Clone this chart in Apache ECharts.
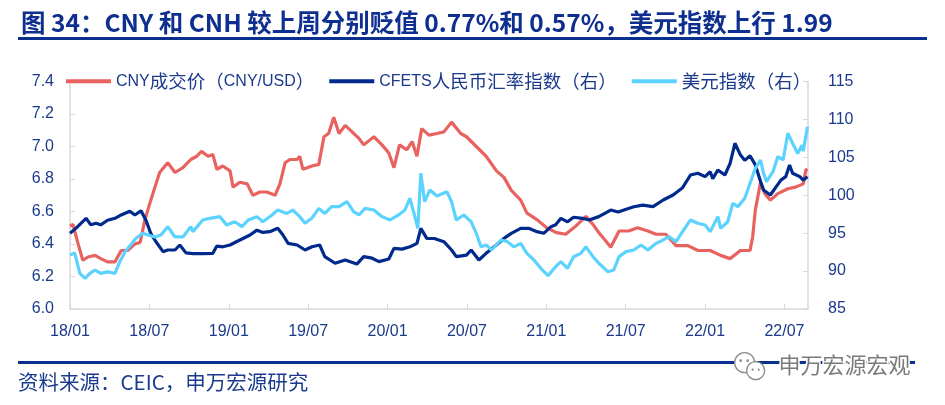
<!DOCTYPE html>
<html><head><meta charset="utf-8">
<script src="https://cdn.jsdelivr.net/npm/echarts@6/dist/echarts.min.js"></script>
<style>html,body{margin:0;padding:0;background:#fff}#c{width:945px;height:405px}</style>
</head><body><div id="c"></div>
<script>
// ---------------- DATA ----------------
const titleText = '图 34：CNY 和 CNH 较上周分别贬值 0.77%和 0.57%，美元指数上行 1.99';
const sourceText = '资料来源：CEIC，申万宏源研究';
const watermarkText = '申万宏源宏观';
const seriesNames = ['CNY成交价（CNY/USD）', 'CFETS人民币汇率指数（右）', '美元指数（右）'];
const xTickLabels = ['18/01','18/07','19/01','19/07','20/01','20/07','21/01','21/07','22/01','22/07'];
const leftTicks = [6.0, 6.2, 6.4, 6.6, 6.8, 7.0, 7.2, 7.4];
const rightTicks = [85, 90, 95, 100, 105, 110, 115];

const cnyDates = ['2018-01-01','2018-01-08','2018-01-19','2018-01-31','2018-02-11','2018-02-26','2018-03-11','2018-03-27','2018-04-13','2018-04-27','2018-05-12','2018-05-29','2018-06-10','2018-06-21','2018-07-02','2018-07-14','2018-07-25','2018-08-13','2018-08-30','2018-09-17','2018-10-05','2018-10-19','2018-10-30','2018-11-14','2018-11-25','2018-12-04','2018-12-18','2019-01-04','2019-01-11','2019-01-27','2019-02-12','2019-02-24','2019-03-12','2019-03-28','2019-04-16','2019-04-27','2019-05-09','2019-05-20','2019-06-06','2019-06-12','2019-06-19','2019-07-10','2019-07-26','2019-08-07','2019-08-18','2019-08-30','2019-09-11','2019-09-25','2019-10-11','2019-10-27','2019-11-07','2019-11-30','2019-12-19','2020-01-04','2020-01-16','2020-01-29','2020-02-14','2020-02-26','2020-03-08','2020-03-19','2020-04-05','2020-04-23','2020-05-09','2020-05-27','2020-06-17','2020-06-30','2020-07-23','2020-08-15','2020-09-08','2020-09-25','2020-10-12','2020-11-03','2020-11-17','2020-12-10','2021-01-02','2021-01-25','2021-02-14','2021-03-08','2021-04-01','2021-04-17','2021-04-30','2021-05-16','2021-05-28','2021-06-16','2021-07-08','2021-07-29','2021-08-22','2021-09-10','2021-10-02','2021-10-26','2021-11-22','2021-12-15','2022-01-13','2022-02-06','2022-02-26','2022-03-22','2022-04-13','2022-04-19','2022-04-25','2022-05-07','2022-05-17','2022-05-30','2022-06-16','2022-07-09','2022-07-27','2022-08-14','2022-08-20','2022-08-24'];
const cnyValues = [6.51,6.52,6.41,6.30,6.32,6.33,6.31,6.29,6.29,6.36,6.36,6.40,6.41,6.55,6.65,6.75,6.84,6.90,6.84,6.87,6.92,6.94,6.97,6.94,6.95,6.86,6.88,6.85,6.75,6.78,6.77,6.70,6.72,6.72,6.70,6.77,6.90,6.92,6.92,6.94,6.86,6.88,6.89,7.06,7.08,7.18,7.08,7.13,7.09,7.05,7.01,7.06,7.01,6.96,6.87,7.01,6.98,7.03,6.94,7.11,7.07,7.08,7.09,7.15,7.08,7.06,7.00,6.94,6.85,6.81,6.73,6.67,6.59,6.55,6.50,6.47,6.46,6.51,6.57,6.52,6.47,6.42,6.38,6.48,6.48,6.50,6.48,6.46,6.46,6.39,6.39,6.36,6.36,6.33,6.31,6.36,6.36,6.445,6.61,6.78,6.71,6.67,6.71,6.74,6.75,6.77,6.855,6.86];

const cfetsDates = ['2018-01-01','2018-01-14','2018-02-07','2018-02-17','2018-02-28','2018-03-11','2018-03-27','2018-04-13','2018-04-27','2018-05-17','2018-05-29','2018-06-12','2018-06-23','2018-07-04','2018-07-16','2018-08-02','2018-08-13','2018-08-30','2018-09-10','2018-09-24','2018-10-10','2018-11-02','2018-11-25','2018-12-04','2018-12-18','2019-01-04','2019-01-20','2019-02-03','2019-02-18','2019-03-05','2019-03-19','2019-04-04','2019-04-22','2019-05-04','2019-05-16','2019-06-06','2019-06-24','2019-07-10','2019-07-28','2019-08-09','2019-09-02','2019-09-25','2019-10-22','2019-11-07','2019-11-26','2019-12-12','2020-01-04','2020-01-16','2020-02-04','2020-02-21','2020-03-08','2020-03-17','2020-03-31','2020-04-17','2020-05-09','2020-05-27','2020-06-07','2020-06-30','2020-07-11','2020-07-29','2020-08-15','2020-09-08','2020-09-25','2020-10-12','2020-11-03','2020-11-21','2020-12-10','2020-12-26','2021-01-12','2021-01-23','2021-02-04','2021-02-18','2021-03-03','2021-03-24','2021-04-08','2021-04-30','2021-05-28','2021-06-14','2021-06-27','2021-07-20','2021-08-10','2021-09-03','2021-09-26','2021-10-19','2021-11-10','2021-11-28','2021-12-15','2022-01-01','2022-01-13','2022-01-19','2022-01-31','2022-02-15','2022-02-26','2022-03-09','2022-03-22','2022-04-01','2022-04-13','2022-04-25','2022-05-07','2022-05-14','2022-05-30','2022-06-12','2022-06-23','2022-07-04','2022-07-13','2022-07-20','2022-08-06','2022-08-14','2022-08-24'];
const cfetsValues = [95.0,95.6,96.96,96.1,96.3,96.1,96.7,96.96,97.4,97.9,97.4,97.96,96.74,95.0,93.9,92.56,92.78,92.78,93.44,92.4,92.3,92.3,92.34,93.3,93.2,93.44,93.9,94.3,94.76,95.4,95.1,95.2,95.64,94.76,93.66,93.44,92.78,93.2,93.44,91.9,91.03,91.47,90.93,91.9,91.7,91.25,91.6,93.0,92.9,93.2,93.66,95.64,94.32,94.3,93.88,92.78,91.9,92.1,92.78,91.46,92.34,93.44,94.32,94.98,95.64,95.64,95.2,94.98,95.86,96.1,96.96,96.5,97.1,96.96,96.74,97.18,98.05,97.8,98.05,98.49,98.7,98.5,99.37,100.03,101.0,102.67,102.9,102.45,103.1,102.2,103.33,102.67,104.2,106.85,105.3,104.6,105.2,104.0,101.8,100.7,100.03,101.1,102.0,102.45,104.0,102.9,102.45,102.0,102.45];

const dxyDates = ['2018-01-01','2018-01-12','2018-01-24','2018-02-05','2018-02-15','2018-02-26','2018-03-11','2018-03-27','2018-04-13','2018-04-24','2018-05-06','2018-05-19','2018-05-31','2018-06-16','2018-06-28','2018-07-14','2018-07-28','2018-08-13','2018-08-30','2018-09-17','2018-10-05','2018-10-10','2018-11-02','2018-11-18','2018-12-11','2018-12-27','2019-01-15','2019-02-01','2019-02-14','2019-03-05','2019-03-19','2019-04-09','2019-04-22','2019-05-13','2019-05-27','2019-06-12','2019-06-24','2019-07-10','2019-07-26','2019-08-09','2019-08-25','2019-09-11','2019-09-29','2019-10-15','2019-10-27','2019-11-10','2019-11-30','2019-12-19','2020-01-07','2020-01-27','2020-02-10','2020-02-21','2020-03-01','2020-03-10','2020-03-17','2020-03-26','2020-04-07','2020-04-23','2020-05-16','2020-05-27','2020-06-07','2020-06-24','2020-07-11','2020-07-23','2020-08-03','2020-08-15','2020-08-28','2020-09-18','2020-10-02','2020-10-18','2020-11-03','2020-11-17','2020-12-03','2020-12-19','2021-01-05','2021-01-23','2021-02-04','2021-02-18','2021-03-03','2021-03-20','2021-04-01','2021-04-17','2021-04-30','2021-05-21','2021-06-04','2021-06-16','2021-07-02','2021-07-20','2021-08-06','2021-08-22','2021-09-10','2021-09-26','2021-10-09','2021-10-26','2021-11-10','2021-11-28','2021-12-15','2022-01-01','2022-01-13','2022-01-31','2022-02-06','2022-02-21','2022-03-04','2022-03-16','2022-04-01','2022-04-13','2022-04-25','2022-05-07','2022-05-14','2022-05-21','2022-06-05','2022-06-16','2022-06-28','2022-07-09','2022-07-20','2022-08-01','2022-08-11','2022-08-14','2022-08-24'];
const dxyValues = [92.1,92.4,89.7,89.05,89.7,90.14,89.7,89.9,89.7,91.24,92.56,93.44,94.3,94.98,94.76,94.5,94.76,95.86,94.5,94.5,95.86,95.2,96.74,96.96,97.18,96.08,96.5,95.86,96.74,97.18,96.5,97.4,98.05,97.6,98.05,97.18,96.3,97.0,98.27,97.6,98.5,98.5,99.15,97.8,97.4,98.27,98.05,97.18,96.74,97.4,98.05,99.6,97.6,95.64,102.9,99.15,100.7,99.9,100.47,99.15,96.74,97.4,96.5,94.98,93.2,93.44,92.78,94.1,93.9,93.2,93.66,92.34,91.46,90.37,89.4,90.58,91.24,90.37,91.9,92.34,93.2,91.9,91.03,89.92,90.14,91.9,92.56,92.78,93.44,92.78,93.66,94.1,94.54,93.88,95.2,96.74,96.3,96.08,95.2,97.18,95.64,96.5,98.93,98.5,99.6,101.58,103.55,104.65,102.9,101.8,103.1,105.1,104.65,108.17,106.85,105.5,106.6,105.8,109.04];

// ---------------- HELPERS ----------------
const X_END = 55.78; // months since 2018-01 (end of data, late Aug 2022)
function monthPos(s) {
  const [y, m, d] = s.split('-').map(Number);
  const dim = new Date(y, m, 0).getDate();
  return (y - 2018) * 12 + (m - 1) + (d - 1) / dim;
}
function pairs(dates, vals) { return dates.map((d, i) => [monthPos(d), vals[i]]); }
// split text into Latin / CJK runs for rich text
function richify(str) {
  return str.replace(/[\x20-\x7e]+|[^\x20-\x7e]+/g, run => (/^[\x20-\x7e]+$/.test(run) ? '{l|' : '{c|') + run + '}');
}

const NAVY = '#1B3A8C';
const RED = '#E8625F';
const DBLUE = '#00298C';
const LBLUE = '#5CD2FF';
const LATIN = '"Liberation Sans", Arial, "Noto Sans CJK SC", sans-serif';
const CJK = '"Noto Sans CJK SC", "Liberation Sans", sans-serif';

const chart = echarts.init(document.getElementById('c'), null, {renderer: 'canvas'});
chart.setOption({
  animation: false,
  backgroundColor: '#ffffff',
  title: {
    text: titleText, left: 16, top: 5,
    textStyle: {color: '#0E2F8F', fontSize: 24.5, fontWeight: 'bold', fontFamily: CJK}
  },
  legend: {
    left: 66, top: 72, padding: 0, itemGap: 15,
    itemWidth: 45, itemHeight: 4, icon: 'rect',
    formatter: name => richify(name),
    textStyle: {
      color: NAVY, fontSize: 16, fontFamily: LATIN,
      rich: {
        l: {color: NAVY, fontSize: 16, fontFamily: LATIN},
        c: {color: NAVY, fontSize: 18.5, fontFamily: CJK}
      }
    },
    data: seriesNames
  },
  grid: {left: 70, right: 137, top: 81.5, bottom: 96, containLabel: false},
  xAxis: {
    type: 'value', min: 0, max: X_END, interval: 6,
    axisLine: {lineStyle: {color: '#D9D9D9', width: 1.5}},
    axisTick: {inside: true, length: 5, lineStyle: {color: '#D9D9D9'}},
    splitLine: {show: false},
    axisLabel: {
      color: NAVY, fontSize: 16, fontFamily: LATIN, margin: 15, showMaxLabel: false,
      formatter: v => { const k = Math.round(v / 6); return Math.abs(v - k * 6) < 1e-6 ? (xTickLabels[k] || '') : ''; }
    }
  },
  yAxis: [{
    type: 'value', min: leftTicks[0], max: leftTicks[leftTicks.length - 1], interval: 0.2,
    axisLine: {show: true, lineStyle: {color: '#D9D9D9', width: 1.5}},
    axisTick: {show: true, inside: true, length: 5, lineStyle: {color: '#D9D9D9'}},
    splitLine: {show: false},
    axisLabel: {color: NAVY, fontSize: 16, fontFamily: LATIN, margin: 16, formatter: v => v.toFixed(1)}
  }, {
    type: 'value', min: rightTicks[0], max: rightTicks[rightTicks.length - 1], interval: 5,
    position: 'right',
    axisLine: {show: true, lineStyle: {color: '#D9D9D9', width: 1.5}},
    axisTick: {show: true, inside: true, length: 5, lineStyle: {color: '#D9D9D9'}},
    splitLine: {show: false},
    axisLabel: {color: NAVY, fontSize: 16, fontFamily: LATIN, margin: 20}
  }],
  series: [{
    name: seriesNames[0], type: 'line', yAxisIndex: 0, showSymbol: false, symbol: 'none',
    data: pairs(cnyDates, cnyValues), lineStyle: {color: RED, width: 3.2}, itemStyle: {color: RED}
  }, {
    name: seriesNames[1], type: 'line', yAxisIndex: 1, showSymbol: false, symbol: 'none',
    data: pairs(cfetsDates, cfetsValues), lineStyle: {color: DBLUE, width: 3.2}, itemStyle: {color: DBLUE}
  }, {
    name: seriesNames[2], type: 'line', yAxisIndex: 1, showSymbol: false, symbol: 'none',
    data: pairs(dxyDates, dxyValues), lineStyle: {color: LBLUE, width: 3.2}, itemStyle: {color: LBLUE}
  }],
  graphic: [
    {type: 'rect', left: 18, top: 37, shape: {width: 909, height: 3}, style: {fill: '#0A2F8F'}},
    {type: 'rect', left: 18, top: 361, shape: {width: 897, height: 3}, style: {fill: '#0A2F8F'}},
    {type: 'text', left: 18, top: 372, style: {text: sourceText, fill: NAVY, font: '20.5px ' + CJK}},
    {type: 'group', left: 734, top: 352, children: [
      {type: 'circle', shape: {cx: 13, cy: 11, r: 10}, style: {fill: '#fff', stroke: '#8a8a8a', lineWidth: 1.3}},
      {type: 'circle', shape: {cx: 24, cy: 19, r: 9}, style: {fill: '#fff', stroke: '#8a8a8a', lineWidth: 1.3}},
      {type: 'circle', shape: {cx: 9, cy: 9, r: 1.3}, style: {fill: '#8a8a8a'}},
      {type: 'circle', shape: {cx: 16, cy: 9, r: 1.3}, style: {fill: '#8a8a8a'}},
      {type: 'circle', shape: {cx: 21, cy: 18, r: 1.1}, style: {fill: '#8a8a8a'}},
      {type: 'circle', shape: {cx: 27, cy: 18, r: 1.1}, style: {fill: '#8a8a8a'}}
    ]},
    {type: 'text', left: 777, top: 352, style: {text: watermarkText, fill: '#7a7a7a', font: '22px ' + CJK, stroke: '#fff', lineWidth: 3}}
  ]
});
</script></body></html>
